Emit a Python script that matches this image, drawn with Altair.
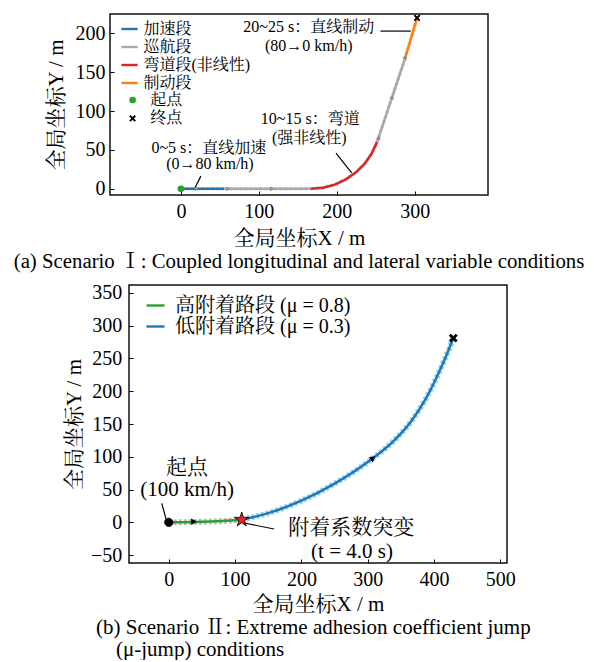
import altair as alt
import pandas as pd

FONT = "Liberation Serif, Noto Serif CJK SC, Noto Sans CJK SC"
XPATH = "M-1,-0.6L-0.6,-1L0,-0.4L0.6,-1L1,-0.6L0.4,0L1,0.6L0.6,1L0,0.4L-0.6,1L-1,0.6L-0.4,0Z"
STAR = ("M0,-1L0.225,-0.309L0.951,-0.309L0.363,0.118L0.588,0.809L0,0.382"
        "L-0.588,0.809L-0.363,0.118L-0.951,-0.309L-0.225,-0.309Z")

# ---------------- Panel (a): Scenario I ----------------
acc_x = [0.0, 55.6]
acc_y = [0.0, 0.0]
cruise1_x = [55.6, 166.7]
cruise1_y = [0.0, 0.0]
turn_x = [166.7, 182.3, 197.5, 211.7, 224.6, 235.6, 244.6, 251.6]
turn_y = [0.0, 1.4, 5.4, 12.1, 21.1, 32.1, 45.0, 60.1]
cruise2_x = [251.6, 287.0]
cruise2_y = [60.1, 166.0]
brake_x = [287.0, 303.0]
brake_y = [166.0, 220.0]

seg_a_names = ["加速段", "巡航段", "弯道段(非线性)", "制动段"]
seg_a_colors = ["#1f77b4", "#a9a9a9", "#d62728", "#ff7f0e"]

mark_a_names = ["起点", "终点"]
mark_a_x = [0.0, 303.0]
mark_a_y = [0.0, 220.0]
mark_a_colors = ["#2ca02c", "#000000"]

arrow_a_x = [20.0, 61.0, 117.0, 254.0, 271.0, 288.0]
arrow_a_y = [0.0, 0.0, 0.0, 66.0, 118.0, 170.0]
arrow_a_heading = [0, 0, 0, 71, 71, 71]

note_a_text = ["0~5 s：直线加速", "(0→80 km/h)", "10~15 s：弯道", "(强非线性)",
               "20~25 s：直线制动", "(80→0 km/h)"]
note_a_x = [35.9, 37.2, 166.0, 164.7, 164.0, 164.0]
note_a_y = [52.4, 31.8, 89.7, 65.3, 208.0, 183.6]

lead_a_x = [25.6, 199.0, 256.0]
lead_a_y = [16.3, 46.0, 203.0]
lead_a_x2 = [17.9, 219.0, 295.0]
lead_a_y2 = [0.9, 20.5, 203.0]

xticks_a = [0, 100, 200, 300]
yticks_a = [0, 50, 100, 150, 200]
xdom_a = [-91, 394]
ydom_a = [-8, 225]

# ---------------- Panel (b): Scenario II ----------------
high_x = [0.0, 40.0, 80.0, 110.0]
high_y = [0.0, 0.6, 2.0, 4.0]
low_x = [110, 150, 200, 250, 300, 340, 365, 385, 400, 415, 429]
low_y = [4, 14, 33, 59, 92, 125, 153.5, 184, 213, 246, 281]

seg_b_names = ["高附着路段 (μ = 0.8)", "低附着路段 (μ = 0.3)"]
seg_b_colors = ["#2ca02c", "#1f77b4"]
band_b_colors = ["#b9b9b9", "#8fd0f2"]

mark_b_kind = ["start", "jump", "end"]
mark_b_x = [0.0, 110.0, 429.0]
mark_b_y = [0.0, 4.0, 281.0]
mark_b_fill = ["#000000", "#e3242b", "#000000"]
mark_b_shape = ["circle", STAR, XPATH]
mark_b_size = [70, 240, 64]

arrow_b_x = [38.0, 308.0]
arrow_b_y = [1.0, 98.0]
arrow_b_heading = [2, 38]

note_b_text = ["起点", "(100 km/h)", "附着系数突变", "(t = 4.0 s)"]
note_b_x = [27.6, 27.6, 275.0, 276.3]
note_b_y = [82.9, 49.3, -8.7, -45.3]

lead_b_x = [-10.6, 113.6]
lead_b_y = [29.0, -1.0]
lead_b_x2 = [-4.0, 158.8]
lead_b_y2 = [4.6, -10.2]

xticks_b = [0, 100, 200, 300, 400, 500]
yticks_b = [-50, 0, 50, 100, 150, 200, 250, 300, 350]
xdom_b = [-60, 510]
ydom_b = [-62, 362]

caption_a = "(a) Scenario Ⅰ: Coupled longitudinal and lateral variable conditions"
caption_b1 = "(b) Scenario Ⅱ: Extreme adhesion coefficient jump"
caption_b2 = "(μ-jump) conditions"


def path_frame(pieces):
    rows = []
    for pid, (seg, xs, ys) in enumerate(pieces):
        for i, (xv, yv) in enumerate(zip(xs, ys)):
            rows.append({"x": xv, "y": yv, "seg": seg, "piece": pid, "o": i})
    return pd.DataFrame(rows)


def encoders(xdom, ydom, xticks, yticks, xlp, xtp, ylp, ytp):
    sx = alt.Scale(domain=xdom, nice=False, zero=False)
    sy = alt.Scale(domain=ydom, nice=False, zero=False)
    ax = alt.Axis(values=xticks, title="全局坐标X / m", tickSize=0, domain=False,
                  labelFontSize=20, titleFontSize=21, labelPadding=xlp,
                  titlePadding=xtp, labelFont=FONT, titleFont=FONT)
    ay = alt.Axis(values=yticks, title="全局坐标Y / m", tickSize=0, domain=False,
                  labelFontSize=20, titleFontSize=21, labelPadding=ylp,
                  titlePadding=ytp, labelFont=FONT, titleFont=FONT)
    tx = alt.Axis(values=xticks, orient="bottom", offset=-4, tickSize=4, labels=False,
                  domain=False, title=None, tickColor="black", tickWidth=1)
    ty = alt.Axis(values=yticks, orient="left", offset=-4, tickSize=4, labels=False,
                  domain=False, title=None, tickColor="black", tickWidth=1)

    def X(f, tick=False):
        return alt.X(f, type="quantitative", scale=sx, axis=tx if tick else ax)

    def Y(f, tick=False):
        return alt.Y(f, type="quantitative", scale=sy, axis=ty if tick else ay)
    return X, Y


# ---------- build panel (a) ----------
Xa, Ya = encoders(xdom_a, ydom_a, xticks_a, yticks_a, 6, 6, 5, 8.5)
path_a = path_frame([("加速段", acc_x, acc_y), ("巡航段", cruise1_x, cruise1_y),
                     ("弯道段(非线性)", turn_x, turn_y), ("巡航段", cruise2_x, cruise2_y),
                     ("制动段", brake_x, brake_y)])

band_a = alt.Chart(path_a).mark_line(strokeWidth=3.5, color="#d0d0d0", strokeDash=[3, 2]).encode(
    x=Xa("x"), y=Ya("y"), detail="piece:N", order="o:Q")
line_a = alt.Chart(path_a).mark_line(strokeWidth=2.5).encode(
    x=Xa("x"), y=Ya("y"), detail="piece:N", order="o:Q",
    color=alt.Color("seg:N", scale=alt.Scale(domain=seg_a_names, range=seg_a_colors),
                    legend=alt.Legend(orient="none", legendX=10, legendY=5.5, title=None,
                                      labelFontSize=16, symbolSize=265, symbolStrokeWidth=2.4,
                                      rowPadding=0, labelOffset=4.5, padding=0, labelLimit=0)))

marks_a_df = pd.DataFrame({"x": mark_a_x, "y": mark_a_y, "name": mark_a_names})
leg_pts = alt.Legend(orient="none", legendX=14.6, legendY=78, title=None, labelFontSize=16,
                     symbolSize=45, rowPadding=2.4, labelOffset=9.7, padding=0, labelLimit=0)
marks_a = alt.Chart(marks_a_df).mark_point(filled=True, size=45, opacity=1).encode(
    x=Xa("x"), y=Ya("y"),
    fill=alt.Fill("name:N", scale=alt.Scale(domain=mark_a_names, range=mark_a_colors), legend=leg_pts),
    shape=alt.Shape("name:N", scale=alt.Scale(domain=mark_a_names, range=["circle", XPATH]), legend=leg_pts))

lead_a_df = pd.DataFrame({"x": lead_a_x, "y": lead_a_y, "x2": lead_a_x2, "y2": lead_a_y2})
lead_a = alt.Chart(lead_a_df).mark_rule(color="black", strokeWidth=1.2).encode(
    x=Xa("x"), y=Ya("y"), x2="x2:Q", y2="y2:Q")

note_a_df = pd.DataFrame({"x": note_a_x, "y": note_a_y, "t": note_a_text})
note_a = alt.Chart(note_a_df).mark_text(font=FONT, fontSize=16, color="black",
                                         align="center", baseline="middle").encode(
    x=Xa("x"), y=Ya("y"), text="t:N")

arrow_a_df = pd.DataFrame({"x": arrow_a_x, "y": arrow_a_y,
                           "ang": [(360 - h) % 360 for h in arrow_a_heading]})
arrow_a = alt.Chart(arrow_a_df).mark_point(shape="triangle-right", filled=True, size=22,
                                            color="#8c8c8c", opacity=1).encode(
    x=Xa("x", True), y=Ya("y", True), angle=alt.Angle("ang:Q", scale=None))

panel_a = alt.layer(alt.layer(band_a, line_a, marks_a, lead_a, note_a), arrow_a).resolve_axis(
    x="independent", y="independent").properties(
    width=378, height=181,
    title=alt.TitleParams(text=caption_a, orient="bottom", anchor="middle", frame="group",
                          font=FONT, fontSize=20.8, fontWeight="normal", color="black", offset=4))

# ---------- build panel (b) ----------
Xb, Yb = encoders(xdom_b, ydom_b, xticks_b, yticks_b, 6.3, 4, 7.3, 6)
path_b = path_frame([(seg_b_names[0], high_x, high_y), (seg_b_names[1], low_x, low_y)])


def band_piece(pid):
    return alt.Chart(path_b).transform_filter(alt.datum.piece == pid).mark_line(
        strokeWidth=6, strokeDash=[3, 2], opacity=0.9, interpolate="monotone",
        color=band_b_colors[pid]).encode(x=Xb("x"), y=Yb("y"), order="o:Q")


line_b = alt.Chart(path_b).mark_line(strokeWidth=2.5, interpolate="monotone").encode(
    x=Xb("x"), y=Yb("y"), detail="piece:N", order="o:Q",
    color=alt.Color("seg:N", scale=alt.Scale(domain=seg_b_names, range=seg_b_colors),
                    legend=alt.Legend(orient="none", legendX=16, legendY=10, title=None,
                                      labelFontSize=20, symbolSize=324, symbolStrokeWidth=2.4,
                                      rowPadding=0, labelOffset=9, padding=0, labelLimit=0)))

marks_b_df = pd.DataFrame({"x": mark_b_x, "y": mark_b_y, "k": mark_b_kind, "s": mark_b_size})
marks_b = alt.Chart(marks_b_df).mark_point(filled=True, opacity=1, stroke="black", strokeWidth=0.8).encode(
    x=Xb("x"), y=Yb("y"),
    fill=alt.Fill("k:N", scale=alt.Scale(domain=mark_b_kind, range=mark_b_fill), legend=None),
    shape=alt.Shape("k:N", scale=alt.Scale(domain=mark_b_kind, range=mark_b_shape), legend=None),
    size=alt.Size("s:Q", scale=None))

lead_b_df = pd.DataFrame({"x": lead_b_x, "y": lead_b_y, "x2": lead_b_x2, "y2": lead_b_y2})
lead_b = alt.Chart(lead_b_df).mark_rule(color="black", strokeWidth=1.2).encode(
    x=Xb("x"), y=Yb("y"), x2="x2:Q", y2="y2:Q")

note_b_df = pd.DataFrame({"x": note_b_x, "y": note_b_y, "t": note_b_text})
note_b = alt.Chart(note_b_df).mark_text(font=FONT, fontSize=21, color="black",
                                         align="center", baseline="middle").encode(
    x=Xb("x"), y=Yb("y"), text="t:N")

arrow_b_df = pd.DataFrame({"x": arrow_b_x, "y": arrow_b_y,
                           "ang": [(360 - h) % 360 for h in arrow_b_heading]})
arrow_b = alt.Chart(arrow_b_df).mark_point(shape="triangle-right", filled=True, size=42,
                                            color="black", opacity=1).encode(
    x=Xb("x", True), y=Yb("y", True), angle=alt.Angle("ang:Q", scale=None))

panel_b = alt.layer(alt.layer(band_piece(0), band_piece(1), line_b, marks_b, lead_b, note_b),
                    arrow_b).resolve_axis(
    x="independent", y="independent").properties(
    width=378, height=278,
    title=alt.TitleParams(text=caption_b1, orient="bottom", anchor="start", align="left",
                          frame="group", dx=-33, font=FONT, fontSize=21, fontWeight="normal",
                          color="black", offset=2.5))

# ---------- layout ----------
spacer_df = pd.DataFrame({"v": [0]})


def spacer(w):
    return alt.Chart(spacer_df).mark_point(size=0, opacity=0).encode(
        x=alt.X("v:Q", axis=None), y=alt.Y("v:Q", axis=None)
    ).properties(width=w, height=1, view=alt.ViewBackground(stroke=None))


IND = dict(color="independent", fill="independent", shape="independent",
           size="independent", stroke="independent")

row_a = alt.hconcat(spacer(4), panel_a, spacing=0).resolve_scale(**IND).resolve_legend(**IND)
row_b = alt.hconcat(spacer(54), panel_b, spacing=0).resolve_scale(**IND).resolve_legend(**IND).properties(
    title=alt.TitleParams(text=caption_b2, orient="bottom", anchor="start", align="left",
                          frame="group", dx=108, font=FONT, fontSize=21, fontWeight="normal",
                          color="black", offset=0))

chart = alt.vconcat(row_a, row_b, spacing=9).resolve_scale(**IND).resolve_legend(**IND).properties(
    padding={"left": 0, "top": 2, "right": 0, "bottom": 0}
).configure_view(
    stroke="#111111", strokeWidth=1.5
).configure_axis(
    labelColor="black", titleColor="black", titleFontWeight="normal", grid=False
).configure_legend(
    labelFont=FONT, labelColor="black"
).configure_title(
    font=FONT, fontWeight="normal", color="black"
)

chart.save("out.html", embed_options={"renderer": "svg", "actions": False})
